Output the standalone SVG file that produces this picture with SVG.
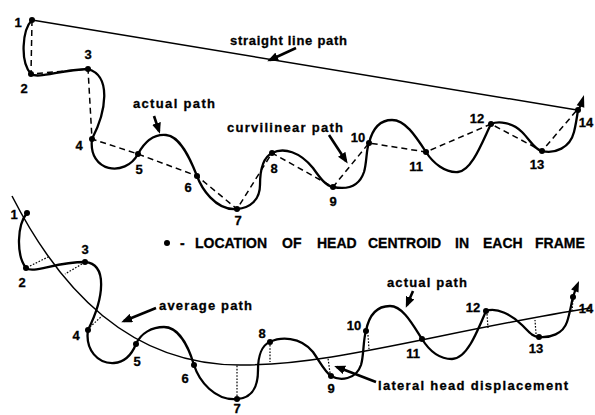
<svg xmlns="http://www.w3.org/2000/svg" width="595" height="415" viewBox="0 0 595 415">
<style>
.bg{fill:#fff}
.act{fill:none;stroke:#000;stroke-width:2.3;stroke-linecap:round;stroke-linejoin:round}
.thin{fill:none;stroke:#000;stroke-width:1.5}
.dash{fill:none;stroke:#000;stroke-width:1.5;stroke-dasharray:6 4}
.dot{fill:none;stroke:#000;stroke-width:1.2;stroke-dasharray:1.6 1.6}
.arr{fill:none;stroke:#000;stroke-width:2.6;marker-end:url(#ah)}
.pt{fill:#000}
.num{font-family:"Liberation Sans",Arial,sans-serif;font-weight:bold;font-size:13px;fill:#000;stroke:#000;stroke-width:0.3;text-anchor:middle}
.lbl{font-family:"Liberation Sans",Arial,sans-serif;font-weight:bold;font-size:13px;fill:#000;stroke:#000;stroke-width:0.3}
.leg{font-family:"Liberation Sans",Arial,sans-serif;font-weight:bold;font-size:14px;fill:#000;stroke:#000;stroke-width:0.3}
</style>
<defs>
<marker id="ah" markerUnits="userSpaceOnUse" markerWidth="11" markerHeight="9" refX="8" refY="4.5" orient="auto">
<path d="M0,0 L11,4.5 L0,9 z" fill="#000"/>
</marker>
</defs>
<rect class="bg" x="0" y="0" width="595" height="415"/>

<!-- TOP PANEL -->
<g id="top-connectors">
<line class="thin" x1="32" y1="20" x2="577" y2="110"/>
<polyline class="dash" points="32,20 31,74 88,69 92,139 138,154 197,176 237,209 272,153 333,187 369,143 426,152 491,124 542,151 577,110"/>
<path class="act" d="M32,20 C22,30 20,62 31,74 C38,79 60,70 88,69 C112,76 106,112 92,139 C88,172 125,178 138,154 C145,141 155,134 166,135 C180,136 190,158 197,176 C201,187 215,211 237,209 C250,208 260,200 260,185 C260,168 264,157 272,153 C284,147 300,152 313,168 C320,178 326,186 333,187 C343,189 358,190 364,172 C367,162 366,150 369,143 C372,131 378,120 392,120 C405,120 415,135 426,152 C433,163 445,173 458,172 C472,171 483,140 491,124 C498,121 512,122 522,132 C530,140 535,150 542,151 C555,154 570,148 574,132 C576,124 577,117 578,110 L580.5,106"/>
<polygon points="584,95 576.7,105.3 584.3,107.7" fill="#000"/>
<line class="arr" x1="296" y1="48" x2="270" y2="60"/>
<line class="arr" x1="154" y1="116" x2="159" y2="131"/>
<line class="arr" x1="329" y1="135" x2="346" y2="161"/>
</g>
<g id="top-labels">
<text class="lbl" x="230" y="45" textLength="117" lengthAdjust="spacing">straight line path</text>
<text class="lbl" x="133" y="108" textLength="82" lengthAdjust="spacing">actual path</text>
<text class="lbl" x="227" y="132" textLength="116" lengthAdjust="spacing">curvilinear path</text>
</g>
<g id="t1"><circle class="pt" cx="32" cy="20" r="3"/><text class="num" x="18" y="27">1</text></g>
<g id="t2"><circle class="pt" cx="31" cy="74" r="3"/><text class="num" x="24" y="93">2</text></g>
<g id="t3"><circle class="pt" cx="88" cy="69" r="3"/><text class="num" x="88" y="59">3</text></g>
<g id="t4"><circle class="pt" cx="92" cy="139" r="3"/><text class="num" x="79" y="150">4</text></g>
<g id="t5"><circle class="pt" cx="138" cy="154" r="3"/><text class="num" x="139" y="174">5</text></g>
<g id="t6"><circle class="pt" cx="197" cy="176" r="3"/><text class="num" x="188" y="192">6</text></g>
<g id="t7"><circle class="pt" cx="237" cy="209" r="3"/><text class="num" x="238" y="225">7</text></g>
<g id="t8"><circle class="pt" cx="272" cy="153" r="3"/><text class="num" x="274" y="173">8</text></g>
<g id="t9"><circle class="pt" cx="333" cy="187" r="3"/><text class="num" x="333" y="206">9</text></g>
<g id="t10"><circle class="pt" cx="369" cy="143" r="3"/><text class="num" x="358" y="142">10</text></g>
<g id="t11"><circle class="pt" cx="426" cy="152" r="3"/><text class="num" x="416" y="171">11</text></g>
<g id="t12"><circle class="pt" cx="491" cy="124" r="3"/><text class="num" x="477" y="123">12</text></g>
<g id="t13"><circle class="pt" cx="542" cy="151" r="3"/><text class="num" x="537" y="169">13</text></g>
<g id="t14"><circle class="pt" cx="578" cy="110" r="3"/><text class="num" x="586" y="127">14</text></g>

<!-- LEGEND -->
<g id="legend">
<circle class="pt" cx="167" cy="243" r="3"/>
<text class="leg" y="248"><tspan x="180">-</tspan><tspan x="195">LOCATION</tspan><tspan x="282">OF</tspan><tspan x="317">HEAD</tspan><tspan x="368">CENTROID</tspan><tspan x="455">IN</tspan><tspan x="483">EACH</tspan><tspan x="535">FRAME</tspan></text>
</g>

<!-- BOTTOM PANEL -->
<g id="bottom-connectors">
<path class="thin" d="M12,196 C60,290 130,365 240,365 C330,366 440,332 590,308"/>
<path class="act" d="M27,213 C17,225 16,255 26,268 C33,274 55,262 85,262 C108,264 104,298 88,330 C85,350 98,364 114,363 C126,362 132,354 136,344 C141,333 152,327 164,327 C178,327 188,345 194,365 C199,381 215,401 237,399 C252,398 258,388 258,370 C258,356 262,345 270,342 C280,337 300,336 313,352 C320,362 325,372 331,376 C340,381 356,380 361,365 C364,355 363,340 366,331 C369,315 377,306 390,306 C403,306 413,325 422,339 C430,352 440,359 452,359 C466,359 476,335 486,311 C497,307 512,315 522,325 C530,333 533,337 539,337 C550,338 563,334 567,322 C570,313 571,305 573,297 L575,291"/>
<polygon points="579,281 571.1,289.6 578.5,292.6" fill="#000"/>
<line class="dot" x1="30" y1="266" x2="50" y2="256"/>
<line class="dot" x1="82" y1="264" x2="65" y2="274"/>
<line class="dot" x1="90" y1="327" x2="102" y2="316"/>
<line class="dot" x1="237" y1="396" x2="237" y2="365"/>
<line class="dot" x1="270" y1="345" x2="270" y2="362"/>
<line class="dot" x1="330" y1="373" x2="328" y2="358"/>
<line class="dot" x1="368" y1="335" x2="369" y2="349"/>
<line class="dot" x1="487" y1="314" x2="488" y2="328"/>
<line class="dot" x1="536" y1="334" x2="535" y2="320"/>
<line class="dot" x1="573" y1="300" x2="572" y2="311"/>
<line class="arr" x1="156" y1="308" x2="124" y2="321"/>
<line class="arr" x1="413" y1="291" x2="407" y2="305"/>
<line class="arr" x1="376" y1="382" x2="337" y2="367"/>
</g>
<g id="bottom-labels">
<text class="lbl" x="159" y="310" textLength="93" lengthAdjust="spacing">average path</text>
<text class="lbl" x="387" y="287" textLength="80" lengthAdjust="spacing">actual path</text>
<text class="lbl" x="378" y="390" textLength="190" lengthAdjust="spacing">lateral head displacement</text>
</g>
<g id="b1"><circle class="pt" cx="27" cy="213" r="3"/><text class="num" x="14" y="219">1</text></g>
<g id="b2"><circle class="pt" cx="26" cy="268" r="3"/><text class="num" x="22" y="287">2</text></g>
<g id="b3"><circle class="pt" cx="85" cy="262" r="3"/><text class="num" x="85" y="254">3</text></g>
<g id="b4"><circle class="pt" cx="88" cy="330" r="3"/><text class="num" x="76" y="340">4</text></g>
<g id="b5"><circle class="pt" cx="136" cy="344" r="3"/><text class="num" x="137" y="366">5</text></g>
<g id="b6"><circle class="pt" cx="194" cy="365" r="3"/><text class="num" x="185" y="383">6</text></g>
<g id="b7"><circle class="pt" cx="237" cy="399" r="3"/><text class="num" x="237" y="413">7</text></g>
<g id="b8"><circle class="pt" cx="270" cy="342" r="3"/><text class="num" x="262" y="338">8</text></g>
<g id="b9"><circle class="pt" cx="331" cy="376" r="3"/><text class="num" x="331" y="393">9</text></g>
<g id="b10"><circle class="pt" cx="366" cy="331" r="3"/><text class="num" x="354" y="330">10</text></g>
<g id="b11"><circle class="pt" cx="422" cy="339" r="3"/><text class="num" x="413" y="358">11</text></g>
<g id="b12"><circle class="pt" cx="486" cy="311" r="3"/><text class="num" x="473" y="312">12</text></g>
<g id="b13"><circle class="pt" cx="539" cy="337" r="3"/><text class="num" x="536" y="353">13</text></g>
<g id="b14"><circle class="pt" cx="573" cy="297" r="3"/><text class="num" x="586" y="313">14</text></g>
</svg>
